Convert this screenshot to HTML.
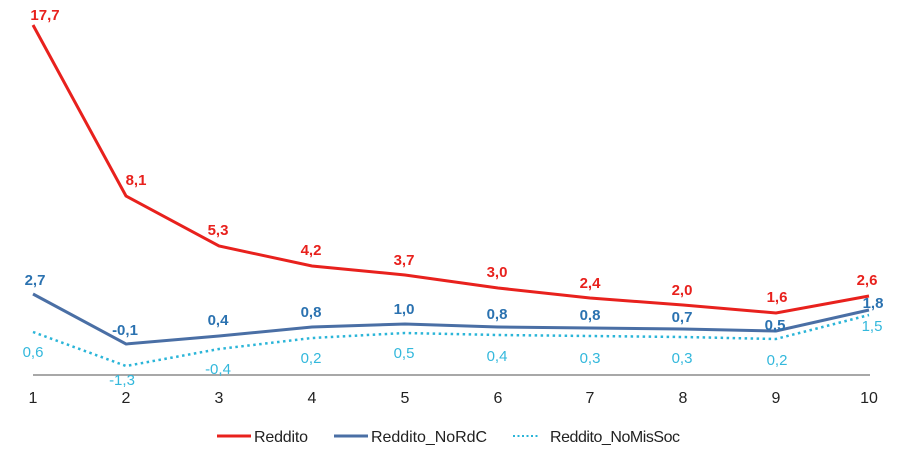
<!DOCTYPE html>
<html><head><meta charset="utf-8"><style>body{margin:0;background:#fff}svg{display:block;font-family:"Liberation Sans",sans-serif}</style></head><body>
<svg width="900" height="456" viewBox="0 0 900 456">
<line x1="33" y1="375" x2="870" y2="375" stroke="#8c8c8c" stroke-width="1.5"/>
<polyline fill="none" stroke="#e8211d" stroke-width="3" points="33,25 126,196 219,246 312,266 405,275 498,288 590,298 683,305 776,313 869,296"/>
<polyline fill="none" stroke="#4a6fa5" stroke-width="3" points="33,294 126,344 219,336 312,327 405,324 498,327 590,328 683,329 776,331 869,310"/>
<polyline fill="none" stroke="#2bb5d8" stroke-width="2.5" stroke-dasharray="2.5,3.5" points="33,332 126,366 219,349 312,338 405,333 498,335 590,336 683,337 776,339 869,315"/>
<g font-size="15" font-weight="bold" fill="#e8211d" text-anchor="middle">
<text x="45" y="20">17,7</text><text x="136" y="185">8,1</text><text x="218" y="235">5,3</text><text x="311" y="255">4,2</text><text x="404" y="265">3,7</text><text x="497" y="277">3,0</text><text x="590" y="288">2,4</text><text x="682" y="295">2,0</text><text x="777" y="302">1,6</text><text x="867" y="285">2,6</text>
</g>
<g font-size="15" font-weight="bold" fill="#2b72b0" text-anchor="middle">
<text x="35" y="285">2,7</text><text x="125" y="335">-0,1</text><text x="218" y="325">0,4</text><text x="311" y="317">0,8</text><text x="404" y="314">1,0</text><text x="497" y="319">0,8</text><text x="590" y="320">0,8</text><text x="682" y="322">0,7</text><text x="775" y="330">0,5</text><text x="873" y="308">1,8</text>
</g>
<g font-size="15" fill="#33b8dc" text-anchor="middle">
<text x="33" y="357">0,6</text><text x="122" y="385">-1,3</text><text x="218" y="374">-0,4</text><text x="311" y="363">0,2</text><text x="404" y="358">0,5</text><text x="497" y="361">0,4</text><text x="590" y="363">0,3</text><text x="682" y="363">0,3</text><text x="777" y="365">0,2</text><text x="872" y="331">1,5</text>
</g>
<g font-size="16" fill="#222" text-anchor="middle">
<text x="33" y="403">1</text><text x="126" y="403">2</text><text x="219" y="403">3</text><text x="312" y="403">4</text><text x="405" y="403">5</text><text x="498" y="403">6</text><text x="590" y="403">7</text><text x="683" y="403">8</text><text x="776" y="403">9</text><text x="869" y="403">10</text>
</g>
<line x1="217" y1="436" x2="251" y2="436" stroke="#e8211d" stroke-width="3"/>
<line x1="334" y1="436" x2="368" y2="436" stroke="#4a6fa5" stroke-width="3"/>
<line x1="513" y1="436" x2="539" y2="436" stroke="#2bb5d8" stroke-width="2" stroke-dasharray="2,2.5"/>
<g font-size="16" fill="#222">
<text x="254" y="442" textLength="54">Reddito</text><text x="371" y="442" textLength="116">Reddito_NoRdC</text><text x="550" y="442" textLength="130">Reddito_NoMisSoc</text>
</g>
</svg>
</body></html>
